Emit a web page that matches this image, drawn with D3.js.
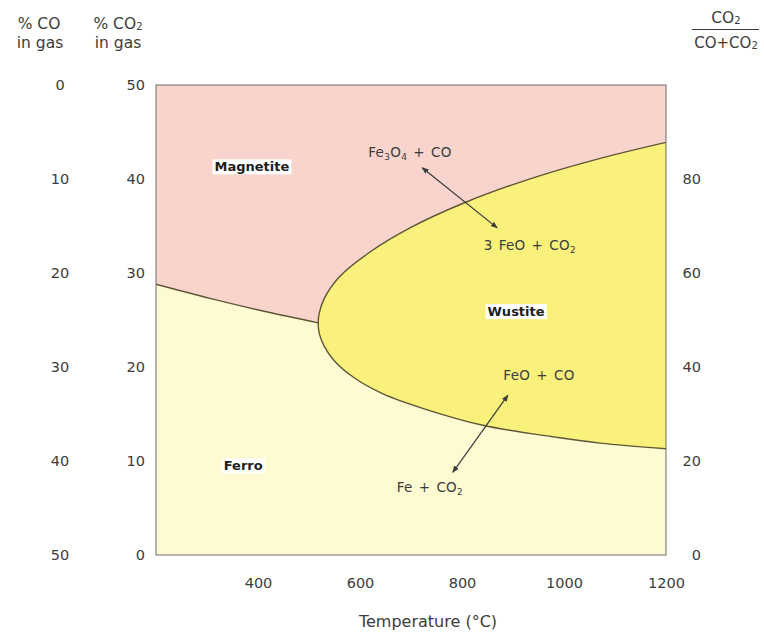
<!DOCTYPE html>
<html>
<head>
<meta charset="utf-8">
<script src="https://cdn.jsdelivr.net/npm/d3@7"></script>
<style>
  html, body { margin: 0; padding: 0; background: #fff; }
  svg { display: block; font-family: "DejaVu Sans", Verdana, sans-serif; }
</style>
</head>
<body>
<svg id="chart" width="764" height="634"></svg>
<script>
// Fe–C–O equilibrium (Baur–Glaessner) diagram: % CO2 in gas vs temperature.

const tempTicks = [400, 600, 800, 1000, 1200];
const co2Ticks = [0, 10, 20, 30, 40, 50];
const coTicks = [50, 40, 30, 20, 10, 0];            // % CO = 50 - % CO2 (scaled column)
const ratioTicks = [0, 20, 40, 60, 80];              // CO2 / (CO + CO2), %

// Magnetite / iron boundary [temperature °C, % CO2]
const magnetiteIron = [[200, 28.8], [306, 27.3], [414, 25.9], [518, 24.7]];
// Magnetite / wustite boundary, from the triple point to 1200 °C
const magnetiteWustite = [[518, 24.7], [520, 25.7], [530, 27.3], [558, 29.5], [616, 32.1],
  [698, 34.8], [806, 37.5], [938, 40.1], [1071, 42.2], [1200, 43.9]];
// Wustite / iron boundary, from the triple point to 1200 °C
const wustiteIron = [[518, 24.7], [520, 23.6], [529, 22.3], [549, 20.7], [590, 18.8],
  [643, 17.2], [729, 15.5], [841, 13.8], [988, 12.5], [1071, 11.9], [1200, 11.3]];

// Phase names [label, temperature, % CO2]
const phaseLabels = [["Magnetite", 388, 41.3], ["Ferro", 371, 9.5], ["Wustite", 906, 25.9]];
// Reactions: parts as [text, isSubscript]
const reactions = [
  { parts: [["Fe", 0], ["3", 1], ["O", 0], ["4", 1], [" + CO", 0]], t: 698, c: 42.8 },
  { parts: [["3 FeO + CO", 0], ["2", 1]], t: 933, c: 33.0 },
  { parts: [["FeO + CO", 0]], t: 951, c: 19.1 },
  { parts: [["Fe + CO", 0], ["2", 1]], t: 737, c: 7.2 }
];
// Double-headed reaction arrows [[t1, c1], [t2, c2]]
const arrows = [[[722, 41.2], [869, 34.8]], [[890, 17.0], [782, 8.8]]];

const colors = { magnetite: "#f8d4cc", iron: "#fefbd3", wustite: "#f9f17c",
                 boundary: "#5e5636", text: "#3c3c3c", frame: "#6a6a6a" };

const svg = d3.select("#chart");
const x = d3.scaleLinear().domain([200, 1200]).range([156, 666]);
const y = d3.scaleLinear().domain([0, 50]).range([555, 85]);
const yRatio = d3.scaleLinear().domain([0, 100]).range([555, 85]);
const yCO = d3.scaleLinear().domain([50, 0]).range([555, 85]);

const line = d3.line().x(d => x(d[0])).y(d => y(d[1])).curve(d3.curveCatmullRom.alpha(0.5));
const cont = p => "L" + p.slice(1);

// Iron field fills the whole plot, the others are laid over it
svg.append("rect").attr("x", x(200)).attr("y", y(50))
  .attr("width", x(1200) - x(200)).attr("height", y(0) - y(50))
  .attr("fill", colors.iron);

svg.append("path")
  .attr("d", line(magnetiteIron) + cont(line(magnetiteWustite)) +
    `L${x(1200)},${y(50)}L${x(200)},${y(50)}Z`)
  .attr("fill", colors.magnetite);

const wustiteOutline = magnetiteWustite.slice().reverse().concat(wustiteIron.slice(1));
svg.append("path").attr("d", line(wustiteOutline) + "Z").attr("fill", colors.wustite);

// Phase boundaries
svg.append("path").attr("d", line(magnetiteIron))
  .attr("fill", "none").attr("stroke", colors.boundary).attr("stroke-width", 1.4);
svg.append("path").attr("d", line(wustiteOutline))
  .attr("fill", "none").attr("stroke", colors.boundary).attr("stroke-width", 1.4);

// Frame
svg.append("rect").attr("x", x(200)).attr("y", y(50))
  .attr("width", x(1200) - x(200)).attr("height", y(0) - y(50))
  .attr("fill", "none").attr("stroke", colors.frame).attr("stroke-width", 1);

// Axes (labels only, no tick marks)
const fmt = d3.format("d");
const bottom = svg.append("g").attr("transform", `translate(0,${y(0)})`)
  .call(d3.axisBottom(x).tickValues(tempTicks).tickFormat(fmt).tickSize(0).tickPadding(23));
const left = svg.append("g").attr("transform", `translate(145,0)`)
  .call(d3.axisLeft(y).tickValues(co2Ticks).tickFormat(fmt).tickSize(0).tickPadding(0));
const right = svg.append("g").attr("transform", `translate(701,0)`)
  .call(d3.axisLeft(yRatio).tickValues(ratioTicks).tickFormat(fmt).tickSize(0).tickPadding(0));
const coAxis = svg.append("g").attr("transform", `translate(60,0)`)
  .call(d3.axisLeft(yCO).tickValues(coTicks).tickFormat(fmt).tickSize(0).tickPadding(0));
coAxis.selectAll("text").attr("text-anchor", "middle");
[bottom, left, right, coAxis].forEach(g => {
  g.select(".domain").remove();
  g.selectAll("text").attr("font-family", "DejaVu Sans").attr("font-size", 14.5)
    .attr("fill", colors.text);
});

// Headers
const hdrSize = 15.5;
const hdr = (xx, yy) => svg.append("text").attr("x", xx).attr("y", yy)
  .attr("text-anchor", "middle").attr("font-size", hdrSize).attr("fill", colors.text);
hdr(39, 29).text("% CO");
hdr(40, 48).text("in gas");
const co2h = hdr(118, 29);
co2h.append("tspan").text("% CO");
co2h.append("tspan").attr("font-size", 10).attr("dy", 1).text("2");
hdr(118, 48).text("in gas");

const fracTop = hdr(726, 23);
fracTop.append("tspan").text("CO");
fracTop.append("tspan").attr("font-size", 10).attr("dy", 1).text("2");
svg.append("line").attr("x1", 692).attr("x2", 759).attr("y1", 29.5).attr("y2", 29.5)
  .attr("stroke", colors.text).attr("stroke-width", 1);
const fracBot = hdr(726, 48).attr("font-size", 15);
fracBot.append("tspan").text("CO+CO");
fracBot.append("tspan").attr("font-size", 10).attr("dy", 1).text("2");

svg.append("text").attr("x", 428).attr("y", 627).attr("text-anchor", "middle")
  .attr("font-size", 16).attr("fill", colors.text).text("Temperature (°C)");

// Phase labels on white boxes
phaseLabels.forEach(([name, t, c]) => {
  const g = svg.append("g");
  const txt = g.append("text").attr("x", x(t)).attr("y", y(c)).attr("dy", "0.35em")
    .attr("text-anchor", "middle").attr("font-size", 13).attr("font-weight", "bold")
    .attr("fill", "#1e1e1e").text(name);
  const bb = txt.node().getBBox();
  g.insert("rect", "text").attr("x", bb.x - 2).attr("y", bb.y)
    .attr("width", bb.width + 4).attr("height", bb.height).attr("fill", "#fff");
});

// Reaction labels
reactions.forEach(r => {
  const txt = svg.append("text").attr("x", x(r.t)).attr("y", y(r.c)).attr("dy", "0.35em")
    .attr("text-anchor", "middle").attr("font-size", 13.5).attr("letter-spacing", 0.3)
    .attr("word-spacing", 1.5).attr("fill", colors.text);
  let sub = false;
  r.parts.forEach(([s, isSub]) => {
    const ts = txt.append("tspan").text(s);
    if (isSub && !sub) { ts.attr("font-size", 9).attr("dy", 3); sub = true; }
    else if (!isSub && sub) { ts.attr("dy", -3); sub = false; }
    else if (isSub) ts.attr("font-size", 9);
  });
});

// Arrowheads
const defs = svg.append("defs");
defs.append("marker").attr("id", "head").attr("viewBox", "0 0 10 10")
  .attr("refX", 9).attr("refY", 5).attr("markerWidth", 7).attr("markerHeight", 7)
  .attr("orient", "auto-start-reverse").attr("markerUnits", "userSpaceOnUse")
  .append("path").attr("d", "M0,1L10,5L0,9Z").attr("fill", "#3a3a3a");

arrows.forEach(([a, b]) => {
  svg.append("line").attr("x1", x(a[0])).attr("y1", y(a[1]))
    .attr("x2", x(b[0])).attr("y2", y(b[1]))
    .attr("stroke", "#3a3a3a").attr("stroke-width", 1.2)
    .attr("marker-start", "url(#head)").attr("marker-end", "url(#head)");
});
</script>
</body>
</html>
